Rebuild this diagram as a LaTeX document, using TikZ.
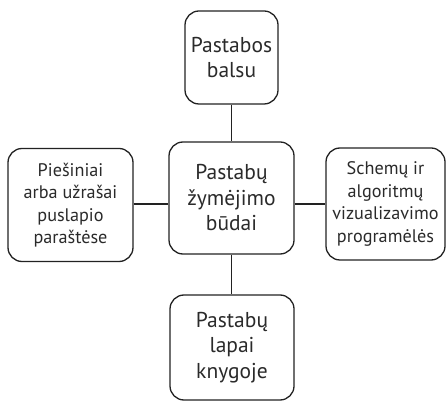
\documentclass[tikz,border=0pt]{standalone}
\usepackage{fontspec}
\setmainfont{PT Sans}
\definecolor{ink}{HTML}{222222}
\definecolor{txt}{HTML}{2A2A2A}
\begin{document}
\begin{tikzpicture}[x=1pt,y=1pt,
  box/.style={draw=ink, line width=1.3pt, rounded corners=14pt, align=center, inner sep=0pt, text=txt},
  big/.style={font=\fontsize{21.5}{25.5}\selectfont},
  small/.style={font=\fontsize{18.2}{22.5}\selectfont},
  link/.style={draw=ink, line width=1.3pt}]
\useasboundingbox (0,0) rectangle (446,401);
\node[box, big, minimum width=93pt, minimum height=93pt] (top) at (231.5,343.5) {Pastabos\\balsu};
\node[box, big, minimum width=125pt, minimum height=112pt] (center) at (231.5,203) {Pastabų\\žymėjimo\\būdai};
\node[box, small, minimum width=125pt, minimum height=113pt] (left) at (70.5,196) {Piešiniai\\arba užrašai\\puslapio\\paraštėse};
\node[box, small, minimum width=119pt, minimum height=112pt] (right) at (385.5,197) {Schemų ir\\algoritmų\\vizualizavimo\\programėlės};
\node[box, big, minimum width=124pt, minimum height=105pt] (bottom) at (232,53.5) {Pastabų\\lapai\\knygoje};
\coordinate (hl) at (0,197);
\draw[link] (top.south) -- (center.north);
\draw[link] (center.south) -- (center.south |- bottom.north);
\draw[link] (left.east |- hl) -- (center.west |- hl);
\draw[link] (center.east |- hl) -- (right.west |- hl);
\end{tikzpicture}
\end{document}
